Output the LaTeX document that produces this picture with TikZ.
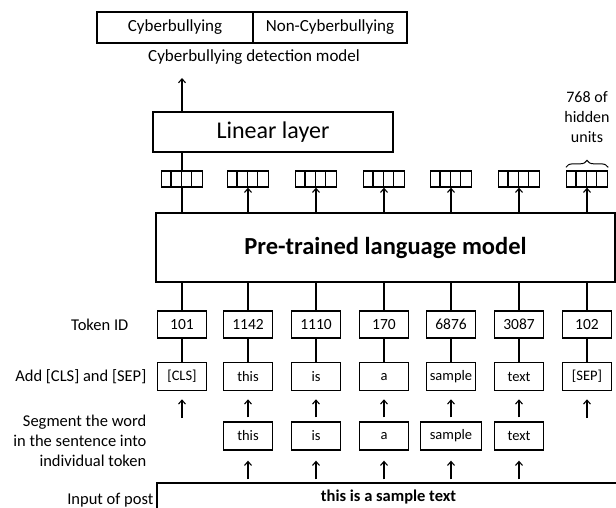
\documentclass[tikz,border=0pt]{standalone}
\usepackage{fontspec}
\setmainfont{Carlito}
\usetikzlibrary{arrows.meta,positioning,decorations.pathreplacing}

\begin{document}
\begin{tikzpicture}[
  x=1pt, y=-1pt,
  line width=1.3pt,
  cell/.style={draw, inner sep=0pt, outer sep=0pt, minimum height=31pt, font=\fontsize{17}{20}\selectfont},
  idbox/.style={draw, inner sep=0pt, minimum width=49pt, minimum height=27pt, font=\fontsize{15.5}{18}\selectfont},
  tokbox/.style={draw, inner sep=0pt, minimum width=49pt, minimum height=28pt, font=\fontsize{14.5}{17}\selectfont},
  unitvec/.style={draw, inner sep=0pt, minimum width=41pt, minimum height=16pt},
  lbl/.style={font=\fontsize{16.5}{20}\selectfont, align=right, inner sep=0pt},
  arr/.style={-{Straight Barb[length=4pt,width=7pt,line width=1.1pt]}}
]
\useasboundingbox (0,0) rectangle (616,508);

% output classes
\node[cell, minimum width=156pt] (cb) at (175,27.5) {Cyberbullying};
\node[cell, minimum width=154pt, right=0pt of cb] (ncb) {Non-Cyberbullying};
\node[font=\fontsize{17}{20}\selectfont] (cap) at (254,57) {Cyberbullying detection model};
\coordinate (out) at (182,78);

% layers
\node[draw, minimum width=240pt, minimum height=40pt, font=\fontsize{24}{28}\selectfont] (lin) at (273,132) {Linear layer};
\node[draw, minimum width=459pt, minimum height=69pt, font=\fontsize{24.5}{28}\selectfont\bfseries] (plm) at (385.5,247.5) {Pre-trained language model};
\node[draw, inner sep=0pt, minimum width=463pt, minimum height=28pt, font=\fontsize{16.5}{20}\selectfont\bfseries] (post) at (388.5,497) {this is a sample text};

% one column per token
\foreach \x/\id/\w [count=\i] in {182/101/[CLS], 248/1142/this, 316/1110/is, 384/170/a, 451/6876/sample, 519/3087/text, 587/102/[SEP]} {
  \node[unitvec] (h\i) at (\x,179) {};
  \foreach \k in {1,2,3}
    \draw ([xshift=\k*10.25pt]h\i.north west) -- ([xshift=\k*10.25pt]h\i.south west);
  \node[idbox] (id\i) at (\x,324.5) {\id};
  \node[tokbox, anchor=north] (add\i) at (\x,362) {\w};
  \coordinate (base\i) at (\x,418);
}

% segmented words
\foreach \x/\w/\bw [count=\j from 2] in {248/this/49, 316/is/49, 384/a/49, 451/sample/61, 519/text/49} {
  \node[tokbox, minimum width=\bw pt] (seg\j) at (\x,436) {\w};
  \draw[arr, shorten <=4pt, shorten >=8pt] (seg\j.north) -- (add\j.south);
  \draw[arr, shorten <=3pt, shorten >=10pt] (seg\j.south |- post.north) -- (seg\j.south);
}
\draw[arr, shorten >=8pt] (base1) -- (add1.south);
\draw[arr, shorten >=8pt] (base7) -- (add7.south);

% connectors
\foreach \i in {1,...,7} {
  \draw (id\i.north |- plm.south) -- (id\i.north);
  \draw (id\i.south) -- (add\i.north);
}
\foreach \i in {2,...,7}
  \draw[arr] (h\i.south |- plm.north) -- (h\i.south);
\draw (h1.south |- plm.north) -- (h1.south);
\draw (h1.north) -- (h1.north |- lin.south);
\draw[arr] (h1.north |- lin.north) -- (out);

% hidden units
\draw[decorate, decoration={brace, amplitude=7pt, raise=3pt}, line width=1pt] (h7.north west) -- (h7.north east);
\node[font=\fontsize{16}{20}\selectfont, align=center] (units) at (587,117) {768 of\\hidden\\units};

% row labels
\node[lbl, anchor=east] (l-id) at (129,325) {Token ID};
\node[lbl, anchor=east] (l-add) at (147,377) {Add [CLS] and [SEP]};
\node[lbl, anchor=east] (l-seg) at (147,441) {Segment the word\\in the sentence into\\individual token};
\node[lbl, anchor=east] (l-post) at (154,500) {Input of post};
\end{tikzpicture}
\end{document}
